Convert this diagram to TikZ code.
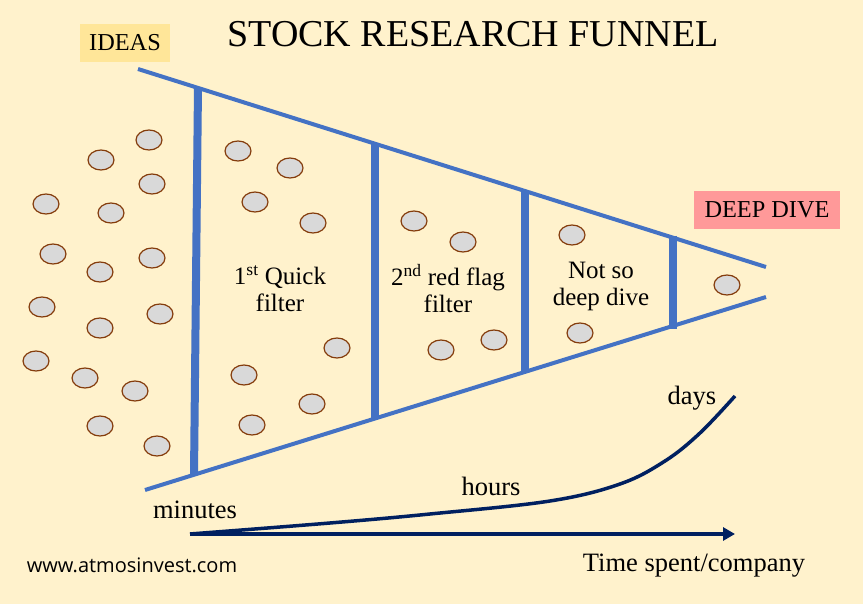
\documentclass[tikz,border=0pt]{standalone}
\usepackage{fontspec}
\setmainfont{Liberation Serif}
\newfontfamily\urlfont{Open Sans}
\usetikzlibrary{arrows.meta,shapes.geometric}
\definecolor{bgc}{HTML}{FFF2CC}
\definecolor{fblue}{HTML}{4472C4}
\definecolor{ideasc}{HTML}{FFE699}
\definecolor{deepc}{HTML}{FF9999}
\definecolor{ballfill}{HTML}{D9D9D9}
\definecolor{ballline}{HTML}{843C0C}
\definecolor{navy}{HTML}{002060}
\tikzset{
  ball/.style={ellipse,draw=ballline,fill=ballfill,line width=1.2pt,minimum width=26pt,minimum height=20pt,inner sep=0pt},
  funline/.style={draw=fblue,line width=4pt},
  barline/.style={draw=fblue,line width=8pt},
  lbl/.style={font=\fontsize{25}{27}\selectfont,align=center,inner sep=0pt},
  axlbl/.style={font=\fontsize{26.5}{30}\selectfont,inner sep=0pt},
  tag/.style={font=\fontsize{24.3}{27}\selectfont,inner sep=0pt,minimum height=38pt},
}
\begin{document}
\begin{tikzpicture}[x=1pt,y=-1pt]
\fill[bgc] (0,0) rectangle (863,604);
\useasboundingbox (0,0) rectangle (863,604);
% title and tags
\node[font=\fontsize{38}{40}\selectfont,inner sep=0pt] (title) at (473,34) {STOCK RESEARCH FUNNEL};
\node[tag,fill=ideasc,minimum width=90pt] (ideas) at (125,43) {IDEAS};
\node[tag,fill=deepc,minimum width=146pt] (deep) at (767,210) {DEEP DIVE};
% funnel
\coordinate (t0) at (138,69);
\coordinate (t1) at (766,267);
\coordinate (b0) at (145,490);
\coordinate (b1) at (766,297);
\draw[funline] (t0) -- (t1);
\draw[funline] (b0) -- (b1);
\coordinate (v1t) at (198,87); \coordinate (v1b) at (194,475);
\coordinate (v2t) at (375,143); \coordinate (v2b) at (375,419);
\coordinate (v3t) at (525,191); \coordinate (v3b) at (525,372);
\coordinate (v4t) at (673,236); \coordinate (v4b) at (673,329);
\draw[barline] (v1t) -- (v1b);
\draw[barline] (v2t) -- (v2b);
\draw[barline] (v3t) -- (v3b);
\draw[barline] (v4t) -- (v4b);
% balls
\foreach \x/\y [count=\i] in {149/140,101/160,152/184,46/204,111/213,53/254,152/258,100/272,42/307,160/314,100/328,36/361,85/378,135/391,100/426,157/446,
238/151,290/168,255/202,313/223,337/348,244/375,312/404,252/425,
414/221,463/242,441/350,494/340,
572/235,580/333,727/285}
  \node[ball] (ball\i) at (\x,\y) {};
% stage labels
\node[lbl] (s1) at (280,289) {1\textsuperscript{st} Quick\\filter};
\node[lbl] (s2) at (448,289) {2\textsuperscript{nd} red flag\\filter};
\node[lbl] (s3) at (601,286) {Not so\\deep dive};
% time axis
\coordinate (a0) at (190,534);
\coordinate (a1) at (735,534);
\draw[navy,line width=4pt,-{Triangle[length=12pt,width=13pt]}] (a0) -- (a1);
\draw[navy,line width=3.5pt] plot[smooth,tension=0.6] coordinates {(190,534) (330,523) (430,514) (550,501) (620,484) (665,461) (700,433) (735,396)};
\node[axlbl] (minutes) at (195,510) {minutes};
\node[axlbl] (hours) at (491,486) {hours};
\node[axlbl] (days) at (692,398) {days};
\node[axlbl] (tsc) at (694,566) {Time spent/company};
\node[font=\urlfont\fontsize{20}{23}\selectfont,inner sep=0pt] (url) at (132,565) {www.atmosinvest.com};
\end{tikzpicture}
\end{document}
